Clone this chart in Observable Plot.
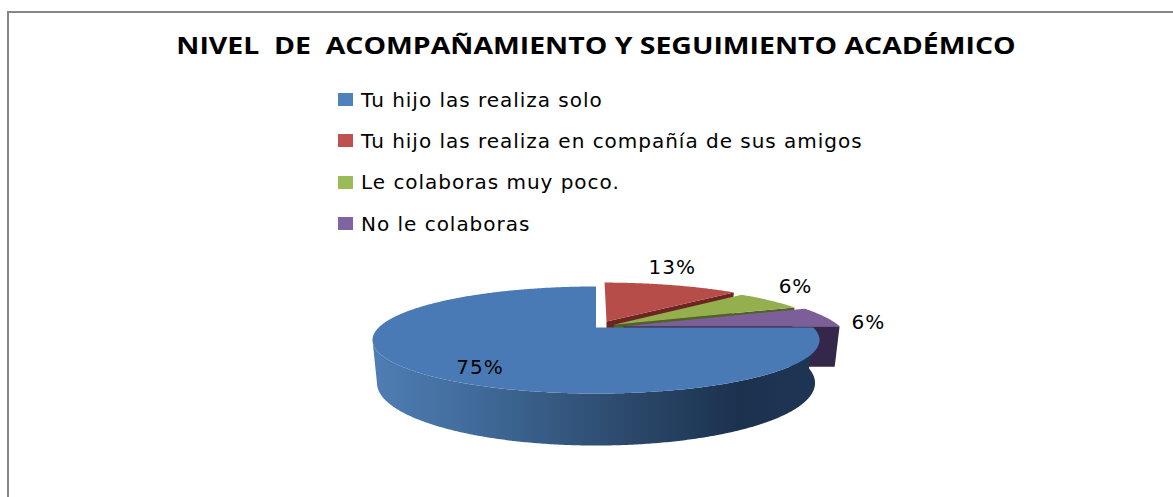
<!DOCTYPE html>
<html><head><meta charset="utf-8">
<script src="https://cdn.jsdelivr.net/npm/d3@7"></script>
<script src="https://cdn.jsdelivr.net/npm/@observablehq/plot@0.6"></script>
<style>
html,body{margin:0;padding:0;background:#fff;overflow:hidden}
#frame{position:absolute;left:7px;top:11px;right:-4px;height:500px;border:2px solid #868686;box-sizing:border-box;border-bottom:none;border-right:none}
#title{position:absolute;left:0;top:28px;width:1192px;text-align:center;white-space:pre;font:700 24px "Open Sans",sans-serif;color:#000;transform:scaleX(1.184);transform-origin:596px 0}
#legend{position:absolute;left:338px;top:79px;font:20px "DejaVu Sans",sans-serif;color:#000;letter-spacing:.98px}
.row{height:41.3px;display:flex;align-items:center;white-space:pre}
.sw{width:15px;height:13px;margin-right:8px}
#chart{position:absolute;left:0;top:240px}
#chart text{letter-spacing:1px}
svg{display:block}
</style></head><body>
<div id="frame"></div>
<div id="title"></div>
<div id="legend"></div>
<div id="chart"></div>
<script>
const chartTitle = "NIVEL  DE  ACOMPAÑAMIENTO Y SEGUIMIENTO ACADÉMICO";
const categories = ["Tu hijo las realiza solo","Tu hijo las realiza en compañía de sus amigos","Le colaboras muy poco.","No le colaboras"];
const shares = [75,12.5,6.25,6.25];
const percentLabels = ["75%","13%","6%","6%"];
const colors = ["#4a7ab5","#b74d48","#94b04e","#7c5e99"];
const legendColors = ["#4f81bd","#c0504d","#9bbb59","#8064a2"];
const faceColors = ["#1e3654","#6d2523","#4f6228","#35274a"];
// pie geometry in the plane of the pie (clockwise degrees from 12 o'clock)
const startAngle = 90;                 // first slice starts at 3 o'clock
const sliceOrder = [1,2,3,0];          // painted back to front
const explode = [0,0.13,0.10,0.13];
const labelSpots = [[214,0.805],[16.5,1.71],[48.6,1.51],[85.5,1.287]];
const perspective = 0.234, depth = 0.807, shrink = 0.98;

const rad = d => d*Math.PI/180;
function project(u,v,low){
  const w = 1+perspective*v, s = low?shrink:1;
  return {x:u/w*s, y:v/w*s-(low?depth/w:0)};
}
let acc = startAngle;
const slices = shares.map((v,i)=>{
  const a0 = acc, a1 = acc+v*3.6; acc = a1;
  const mid = rad((a0+a1)/2), e = explode[i];
  return {i,category:categories[i],a0,a1,ox:e*Math.sin(mid),oy:e*Math.cos(mid)};
});
function rim(s,low){
  const n = Math.ceil(s.a1-s.a0)*2, pts=[];
  for(let k=0;k<=n;k++){
    const a = rad(s.a0+(s.a1-s.a0)*k/n);
    pts.push(project(Math.sin(a)+s.ox,Math.cos(a)+s.oy,low));
  }
  return pts;
}
const tag = (pts,s)=>pts.map(p=>({...p,category:s.category}));
const marks = [()=>{
  const defs = d3.create("svg:defs");
  const g = defs.append("linearGradient").attr("id","wall");
  [[0,"#4f7eb5"],[0.28,"#3d6693"],[0.55,"#2d4b6e"],[0.82,"#1b324f"],[1,"#1e3654"]].forEach(([o,c])=>g.append("stop").attr("offset",o).attr("stop-color",c));
  return defs.node();
}];
for(const i of sliceOrder){
  const s = slices[i];
  const apexT = project(s.ox,s.oy,false), apexB = project(s.ox,s.oy,true);
  const top = rim(s,false), low = rim(s,true);
  if(i===0){
    // visible wall: from the start of the slice round the front to the leftmost point of the rim
    const left = d3.leastIndex(top,p=>p.x);
    marks.push(Plot.line([...top.slice(0,left+1),...low.slice(0,left+1).reverse()],{x:"x",y:"y",fill:"url(#wall)",stroke:null}));
  } else {
    const e = top.length-1;
    marks.push(Plot.line([apexT,top[e],low[e],apexB],{x:"x",y:"y",fill:faceColors[i],stroke:null}));
  }
  marks.push(Plot.line(tag([apexT,...top],s),{x:"x",y:"y",fill:"category",stroke:null}));
}
const labels = percentLabels.map((t,i)=>{
  const [a,r] = labelSpots[i];
  return {...project(r*Math.sin(rad(a)),r*Math.cos(rad(a)),false),label:t};
});
marks.push(Plot.text(labels,{x:"x",y:"y",text:"label",fontSize:20,fill:"#000",fontFamily:"DejaVu Sans"}));

document.getElementById("title").textContent = chartTitle;
const lg = d3.select("#legend").selectAll("div").data(categories).join("div").attr("class","row");
lg.append("span").attr("class","sw").style("background",(d,i)=>legendColors[i]);
lg.append("span").text(d=>d);

document.getElementById("chart").append(Plot.plot({
  width:1173,height:257,margin:0,
  style:{background:"transparent",overflow:"visible"},
  x:{domain:[-1,1],range:[595.5-217.3,595.5+217.3],axis:null},
  y:{domain:[-1,1],range:[87+50.6,87-50.6],axis:null},
  color:{domain:categories,range:colors},
  marks
}));
</script></body></html>
